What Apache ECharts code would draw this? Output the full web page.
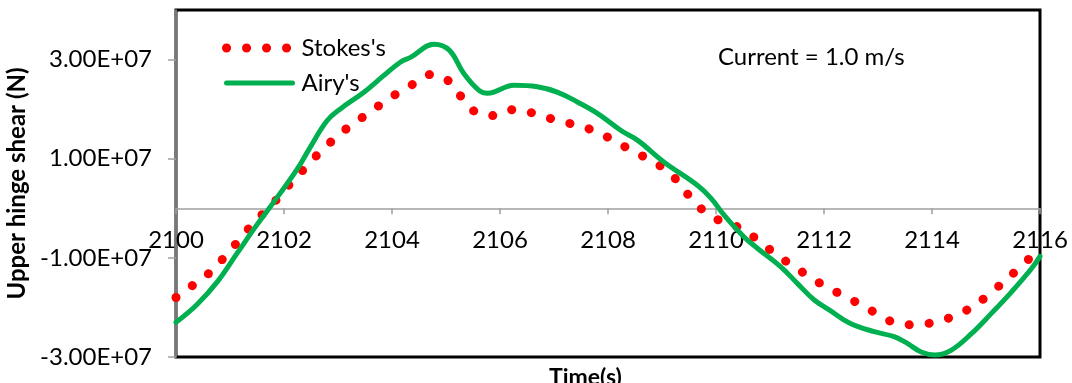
<!DOCTYPE html>
<html>
<head>
<meta charset="utf-8">
<script src="https://cdn.jsdelivr.net/npm/echarts@6/dist/echarts.min.js"></script>
<style>
html,body{margin:0;padding:0;background:#fff;}
#chart{width:1072px;height:383px;}
</style>
</head>
<body>
<div id="chart"></div>
<script>
// ---- data ----
const stokesTime = [2100.0,2100.29,2100.59,2100.86,2101.10,2101.33,2101.60,2101.85,2102.10,2102.35,2102.60,2102.88,2103.15,2103.46,2103.77,2104.07,2104.40,2104.73,2105.06,2105.29,2105.55,2105.89,2106.25,2106.61,2106.97,2107.33,2107.68,2108.02,2108.35,2108.68,2109.00,2109.28,2109.51,2109.77,2110.09,2110.45,2110.75,2111.04,2111.35,2111.66,2111.97,2112.30,2112.64,2112.97,2113.29,2113.66,2114.04,2114.39,2114.73,2115.02,2115.31,2115.58,2115.86,2116.0];
const stokesShear = [-1.80e7,-1.57e7,-1.33e7,-1.03e7,-0.73e7,-0.43e7,-0.12e7,0.16e7,0.48e7,0.77e7,1.06e7,1.35e7,1.60e7,1.84e7,2.08e7,2.30e7,2.51e7,2.70e7,2.56e7,2.24e7,1.94e7,1.87e7,1.99e7,1.92e7,1.80e7,1.70e7,1.59e7,1.42e7,1.22e7,1.03e7,0.83e7,0.56e7,0.24e7,-0.05e7,-0.26e7,-0.40e7,-0.62e7,-0.87e7,-1.11e7,-1.33e7,-1.54e7,-1.73e7,-1.92e7,-2.12e7,-2.30e7,-2.35e7,-2.30e7,-2.18e7,-2.00e7,-1.77e7,-1.50e7,-1.24e7,-0.96e7,-0.85e7];
const airyTime = [2100.0,2100.39,2100.76,2101.13,2101.50,2101.88,2102.25,2102.49,2102.80,2103.05,2103.48,2103.85,2104.16,2104.35,2104.78,2105.06,2105.33,2105.61,2105.77,2106.26,2106.69,2107.07,2107.44,2107.81,2108.24,2108.55,2109.04,2109.66,2109.91,2110.15,2110.52,2110.77,2111.20,2111.51,2111.82,2112.11,2112.48,2112.93,2113.30,2113.55,2113.80,2114.05,2114.36,2114.73,2115.10,2115.47,2115.84,2116.0];
const airyShear = [-2.30e7,-1.94e7,-1.49e7,-0.91e7,-0.33e7,0.23e7,0.80e7,1.24e7,1.77e7,2.01e7,2.34e7,2.68e7,2.95e7,3.05e7,3.31e7,3.19e7,2.72e7,2.38e7,2.32e7,2.48e7,2.45e7,2.34e7,2.14e7,1.91e7,1.57e7,1.37e7,0.93e7,0.46e7,0.20e7,-0.14e7,-0.58e7,-0.81e7,-1.18e7,-1.52e7,-1.85e7,-2.06e7,-2.32e7,-2.49e7,-2.59e7,-2.73e7,-2.90e7,-2.96e7,-2.86e7,-2.53e7,-2.12e7,-1.69e7,-1.22e7,-0.97e7];
const yTickValues = [-3e7,-1e7,1e7,3e7];
const seriesNames = ["Stokes's","Airy's"];
const yTitle = "Upper hinge shear (N)";
const xTitle = "Time(s)";
const note = "Current = 1.0 m/s";

function pairs(xs, ys){ return xs.map((x,i)=>[x, ys[i]]); }
function sci(v){
  const m = v/1e7;
  return (m<0?'-':'') + Math.abs(m).toFixed(2) + 'E+07';
}

const FONT = 'Lato';
const GRID = {left:176,right:32,top:10,bottom:26};
const Y_MIN = -3e7, Y_MAX = 4e7;
const plotH = 383 - GRID.top - GRID.bottom;
// x axis crosses the y axis at zero: shift it up from the bottom edge
const zeroOffset = -plotH * (0 - Y_MIN) / (Y_MAX - Y_MIN);

const chart = echarts.init(document.getElementById('chart'), null, {renderer:'canvas'});
chart.setOption({
  animation:false,
  backgroundColor:'#ffffff',
  grid:Object.assign({show:true,borderColor:'#000',borderWidth:3,backgroundColor:'transparent',outerBoundsMode:'none',containLabel:false}, GRID),
  legend:{
    orient:'vertical', left:217, top:31, itemWidth:66, itemHeight:14, itemGap:11,
    textStyle:{fontFamily:FONT,fontSize:24,color:'#000',lineHeight:24,padding:[0,0,0,4]},
    itemStyle:{opacity:0},
    lineStyle:{width:'inherit'},
    data:seriesNames
  },
  xAxis:{
    type:'value', min:2100, max:2116, interval:2, position:'bottom', offset:zeroOffset,
    axisLine:{show:true,onZero:false,lineStyle:{color:'#a0a0a0',width:1.5}},
    axisTick:{show:true,length:6,lineStyle:{color:'#a0a0a0',width:1.5}},
    axisLabel:{fontFamily:FONT,fontSize:24,color:'#000',margin:20,formatter:v=>String(v)},
    splitLine:{show:false}
  },
  yAxis:{
    type:'value', min:Y_MIN, max:Y_MAX, interval:1e7,
    name:yTitle, nameLocation:'middle', nameGap:140,
    nameTextStyle:{fontFamily:FONT,fontSize:24,fontWeight:'bold',color:'#000'},
    axisLine:{show:true,onZero:false,lineStyle:{color:'#a0a0a0',width:1.5}},
    axisTick:{show:true,length:8,customValues:yTickValues,lineStyle:{color:'#a0a0a0',width:1.5}},
    axisLabel:{fontFamily:FONT,fontSize:24,color:'#000',margin:24,customValues:yTickValues,formatter:sci},
    splitLine:{show:false}
  },
  graphic:[
    {type:'text',left:718,top:45,style:{text:note,fontFamily:FONT,fontSize:24,fill:'#000'}},
    {type:'text',left:549,top:366,style:{text:xTitle,fontFamily:FONT,fontSize:23,fontWeight:'bold',fill:'#000'}}
  ],
  series:[
    {name:seriesNames[0],type:'line',data:pairs(stokesTime,stokesShear),smooth:0.4,showSymbol:false,symbol:'none',
     lineStyle:{color:'#ff0000',width:9,type:[0.1,19.9],cap:'round'},itemStyle:{color:'#ff0000'},z:2},
    {name:seriesNames[1],type:'line',data:pairs(airyTime,airyShear),smooth:0.4,showSymbol:false,symbol:'none',
     lineStyle:{color:'#00b050',width:5,cap:'round'},itemStyle:{color:'#00b050'},z:3}
  ]
});
</script>
</body>
</html>
